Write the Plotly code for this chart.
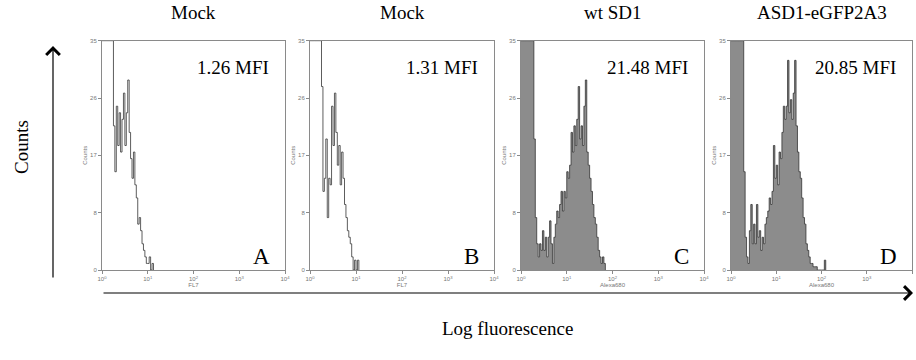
import plotly.graph_objects as go

# ---------------- data ----------------
CH_PER_DECADE = 32  # histogram channels per log decade

panel_titles = ["Mock", "Mock", "wt SD1", "ASD1-eGFP2A3"]
mfi_labels = ["1.26 MFI", "1.31 MFI", "21.48 MFI", "20.85 MFI"]
panel_letters = ["A", "B", "C", "D"]
x_axis_names = ["FL7", "FL7", "Alexa680", "Alexa680"]

counts_A = [35, 35, 35, 35, 35, 35, 35, 35, 22, 15, 25, 19, 24, 18, 23, 27,
            19, 24, 29, 21, 17, 14, 18, 13, 11, 7, 8, 6, 4, 3, 2, 1,
            1, 2, 0, 1, 0]
counts_B = [35, 35, 35, 35, 35, 35, 35, 35, 28, 12, 14, 20, 8, 14, 13, 25,
            19, 27, 21, 16, 19, 13, 18, 14, 10, 8, 6, 5, 4, 2, 0, 1.5,
            0, 1.5, 0]
counts_C = [35, 35, 35, 35, 35, 35, 35, 35, 35, 20, 8, 4, 2, 4, 3, 6,
            3, 5, 2, 5, 7.5, 4, 1, 5, 7, 9, 8, 10, 12, 9, 12, 11,
            15, 14, 16, 21, 18, 22, 19, 23, 28, 20, 22, 19, 25, 29, 18, 16,
            14, 12, 10, 8, 7, 5, 3, 2, 1, 2, 1, 0]
counts_D = [35, 35, 35, 35, 35, 35, 35, 35, 35, 15, 5, 2, 1, 6, 10, 4,
            7, 4, 10, 5, 6, 3, 5, 4, 7, 8, 9, 11, 10, 12, 19, 14,
            16, 13, 18, 17, 21, 25, 23, 25, 32, 24, 26, 23, 27, 32, 22, 18,
            15, 14, 11, 8, 7, 4, 3, 2, 1, 1, 0.5, 0.5, 0.5, 0, 0, 0,
            0, 0, 1.5, 0]

filled = [False, False, True, True]

y_tick_vals = [0, 8.75, 17.5, 26.25, 35]
y_tick_text = ["0", "8", "17", "26", "35"]
x_tick_vals = [1, 10, 100, 1000, 10000]
x_tick_text = ["10<sup>0</sup>", "10<sup>1</sup>", "10<sup>2</sup>",
               "10<sup>3</sup>", "10<sup>4</sup>"]

# ---------------- layout helpers ----------------
W, H = 916, 360
panel_px = [(102, 285), (310, 494), (521, 704), (731, 912)]
top_px, bottom_px = 40.7, 270


def px_x(p):
    return p / W


def px_y(p):
    return 1 - p / H


fig = go.Figure()
all_counts = [counts_A, counts_B, counts_C, counts_D]
SERIF = "Liberation Serif, Times New Roman, serif"
SMALL = dict(family="Arial, Liberation Sans", size=6, color="#777")

for i, counts in enumerate(all_counts):
    xs = [10 ** (k / CH_PER_DECADE) for k in range(len(counts))]
    ax_suffix = "" if i == 0 else str(i + 1)
    tr = dict(
        x=xs, y=counts, mode="lines", line_shape="hv",
        line=dict(color="#333333", width=0.8),
        xaxis="x" + ax_suffix, yaxis="y" + ax_suffix,
        showlegend=False, hoverinfo="skip",
    )
    if filled[i]:
        tr["fill"] = "tozeroy"
        tr["fillcolor"] = "#8c8c8c"
    fig.add_trace(go.Scatter(**tr))

    x0, x1 = panel_px[i]
    xa = dict(
        type="log", range=[0, 4], domain=[px_x(x0), px_x(x1)],
        anchor="y" + ax_suffix, showgrid=False, zeroline=False,
        showline=True, linecolor="#8a8a8a", linewidth=1, mirror=True,
        ticks="outside", ticklen=3, tickcolor="#8a8a8a", automargin=False,
        tickvals=x_tick_vals, ticktext=x_tick_text, tickfont=SMALL,
        title=dict(text=x_axis_names[i], font=SMALL, standoff=1),
    )
    ya = dict(
        range=[0, 35], domain=[px_y(bottom_px), px_y(top_px)],
        anchor="x" + ax_suffix, showgrid=False, zeroline=False,
        showline=True, linecolor="#8a8a8a", linewidth=1, mirror=True,
        ticks="outside", ticklen=3, tickcolor="#8a8a8a", automargin=False,
        tickvals=y_tick_vals, ticktext=y_tick_text, tickfont=SMALL,
        title=dict(text="Counts", font=SMALL, standoff=2),
    )
    fig.layout["xaxis" + ax_suffix] = xa
    fig.layout["yaxis" + ax_suffix] = ya

    cx = (x0 + x1) / 2
    fig.add_annotation(x=px_x(cx), y=px_y(13), xref="paper", yref="paper",
                       text=panel_titles[i], showarrow=False,
                       xanchor="center", yanchor="middle",
                       font=dict(family=SERIF, size=19, color="black"))
    fig.add_annotation(x=px_x(x1 - 14), y=px_y(67), xref="paper", yref="paper",
                       text=mfi_labels[i], showarrow=False,
                       xanchor="right", yanchor="middle",
                       font=dict(family=SERIF, size=19, color="black"))
    fig.add_annotation(x=px_x(x1 - 13), y=px_y(256), xref="paper", yref="paper",
                       text=panel_letters[i], showarrow=False,
                       xanchor="right", yanchor="middle",
                       font=dict(family=SERIF, size=23, color="black"))

# big axis arrows and labels (tail offsets in pixels)
fig.add_annotation(x=px_x(53), y=px_y(46), xref="paper", yref="paper",
                   ax=0, ay=233, axref="pixel", ayref="pixel",
                   showarrow=True, arrowhead=4, arrowsize=2.2, arrowwidth=1.2,
                   arrowcolor="black", text="")
fig.add_annotation(x=px_x(913), y=px_y(293), xref="paper", yref="paper",
                   ax=-811, ay=0, axref="pixel", ayref="pixel",
                   showarrow=True, arrowhead=4, arrowsize=2.2, arrowwidth=1.2,
                   arrowcolor="black", text="")
fig.add_annotation(x=px_x(21), y=px_y(147), xref="paper", yref="paper",
                   text="Counts", textangle=-90, showarrow=False,
                   xanchor="center", yanchor="middle",
                   font=dict(family=SERIF, size=19, color="black"))
fig.add_annotation(x=px_x(508), y=px_y(328), xref="paper", yref="paper",
                   text="Log fluorescence", showarrow=False,
                   xanchor="center", yanchor="middle",
                   font=dict(family=SERIF, size=19, color="black"))

fig.update_layout(
    width=W, height=H, margin=dict(l=0, r=0, t=0, b=0, pad=0, autoexpand=False),
    paper_bgcolor="white", plot_bgcolor="white",
)

fig.write_html(
    "out.html",
    config={"displayModeBar": False},
    post_script="document.body.style.margin='0';document.body.style.overflow='hidden';",
)
